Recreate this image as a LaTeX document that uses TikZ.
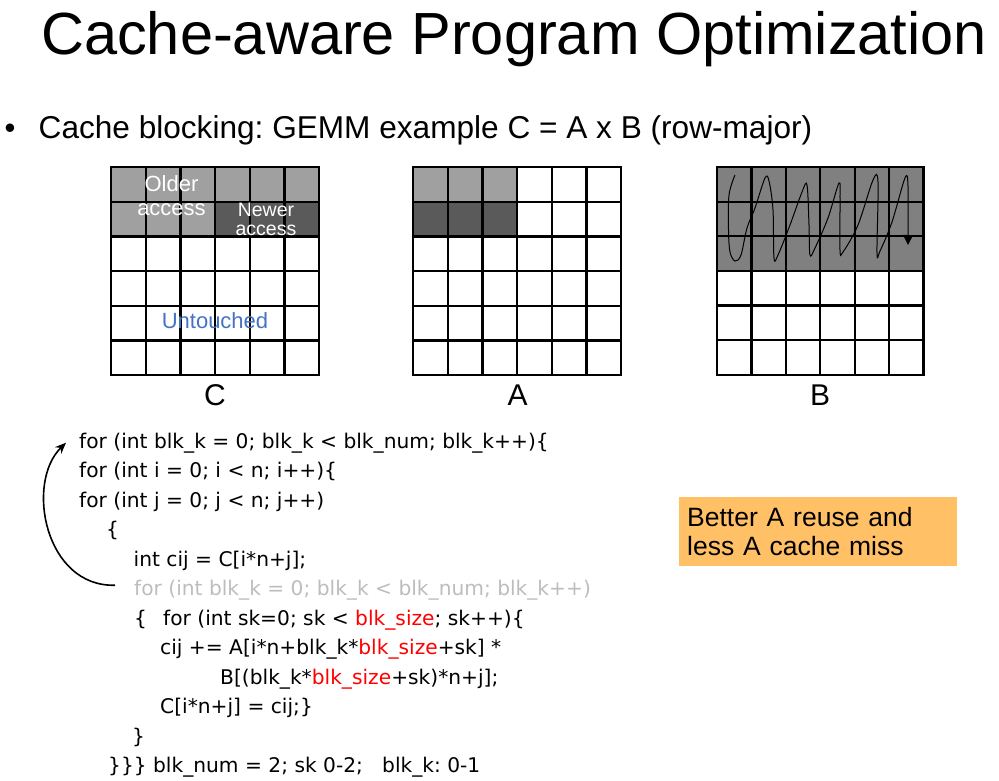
\documentclass[tikz,border=0pt]{standalone}
\usepackage{fontspec}
\setmainfont{Liberation Sans}
\newfontfamily\codefont{DejaVu Sans}
\usetikzlibrary{arrows.meta}
\frenchspacing

\definecolor{oldgray}{HTML}{A0A0A0}
\definecolor{newgray}{HTML}{5A5A5A}
\definecolor{blockgray}{HTML}{808080}
\definecolor{untouched}{HTML}{4472C4}
\definecolor{notebox}{HTML}{FFC066}
\definecolor{ghostcode}{HTML}{BDBDBD}
\newcommand{\hl}[1]{\textcolor{red}{#1}}

\tikzset{
  gridline/.style={line width=2.2pt, line cap=rect},
  code/.style={anchor=base west, inner sep=0pt, font=\codefont\fontsize{20.2}{24}\selectfont},
  letter/.style={anchor=base, inner sep=0pt, font=\fontsize{30}{36}\selectfont},
  celltext/.style={anchor=base, inner sep=0pt, text=white},
}

\begin{document}
\begin{tikzpicture}[x=1pt,y=-1pt]
    \useasboundingbox (0,0) rectangle (999,781);
    \node[anchor=base west, inner sep=0pt, font=\fontsize{59.5}{70}\selectfont] (title) at (41,55)
      {Cache-aware Program Optimization};
    \node[anchor=base, inner sep=0pt, font=\fontsize{31}{36}\selectfont] (bullet) at (10,139) {•};
    \node[anchor=base west, inner sep=0pt, font=\fontsize{31.6}{36}\selectfont] (topic) at (38.5,139)
      {Cache blocking: GEMM example C = A x B (row-major)};
    % matrix C
    \begin{scope}[shift={(111,167)}, x=34.7pt, y=-34.7pt]
      \fill[oldgray] (0,0) rectangle (6,1);
      \fill[oldgray] (0,1) rectangle (3,2);
      \fill[newgray] (3,1) rectangle (6,2);
      \foreach \i in {0,...,6} {
        \draw[gridline] (\i,0) -- (\i,6);
        \draw[gridline] (0,\i) -- (6,\i);
      }
    \end{scope}
    \node[celltext, font=\fontsize{22}{24}\selectfont] (older) at (171.5,191) {Older};
    \node[celltext, font=\fontsize{22}{24}\selectfont] (olderb) at (171.5,215) {access};
    \node[celltext, font=\fontsize{19.5}{20}\selectfont] (newer) at (266,216) {Newer};
    \node[celltext, font=\fontsize{19.5}{20}\selectfont] (newerb) at (266,235) {access};
    \node[celltext, text=untouched, font=\fontsize{22}{24}\selectfont] (untouched) at (215,328) {Untouched};
    \node[letter] (labelC) at (215,405) {C};
    % matrix A
    \begin{scope}[shift={(413,167)}, x=34.7pt, y=-34.7pt]
      \fill[oldgray] (0,0) rectangle (3,1);
      \fill[newgray] (0,1) rectangle (3,2);
      \foreach \i in {0,...,6} {
        \draw[gridline] (\i,0) -- (\i,6);
        \draw[gridline] (0,\i) -- (6,\i);
      }
    \end{scope}
    \node[letter] (labelA) at (517.5,405) {A};
    % matrix B
    \begin{scope}[shift={(717,167)}, x=34.4pt, y=-34.6pt]
      \fill[blockgray] (0,0) rectangle (6,3);
      \foreach \i in {0,...,6} {
        \draw[gridline] (\i,0) -- (\i,6);
        \draw[gridline] (0,\i) -- (6,\i);
      }
    \end{scope}
    \node[letter] (labelB) at (820,405) {B};
    \draw[line width=1pt, -{Triangle[length=10pt, width=10pt]}]
      plot[smooth, tension=0.55] coordinates {
        (735,175) (729,195) (728.5,230) (730,252) (735,261) (741,255)
        (747,228) (755,208) (765,178) (769,181) (773,210) (774,258)
        (778,255) (790,225) (802,192) (807,185) (809,225) (810,255)
        (815,248) (828,218) (839,183) (840,200) (840,250) (843,252)
        (858,225) (873,180) (878,182) (877,253) (880,251) (892,222)
        (905,178) (908,186) (908,245)};
    % blocked loop nest
    \node[code] (loopk) at (79,448) {for (int blk\_k = 0; blk\_k < blk\_num; blk\_k++)\{};
    \node[code] (loopi) at (79,477.5) {for (int i = 0; i < n; i++)\{};
    \node[code] (loopj) at (79,507) {for (int j = 0; j < n; j++)};
    \node[code] (openj) at (106,536.5) {\{};
    \node[code] (loadc) at (133.5,566) {int cij = C[i*n+j];};
    \node[code, text=ghostcode] (ghost) at (134,595.5) {for (int blk\_k = 0; blk\_k < blk\_num; blk\_k++)};
    \node[code] (openk) at (134,625) {\{};
    \node[code] (loopsk) at (163,625) {for (int sk=0; sk < \hl{blk\_size}; sk++)\{};
    \node[code] (accum) at (160,654.5) {cij += A[i*n+blk\_k*\hl{blk\_size}+sk] *};
    \node[code] (accumb) at (220,684) {B[(blk\_k*\hl{blk\_size}+sk)*n+j];};
    \node[code] (storec) at (160,713.5) {C[i*n+j] = cij;\}};
    \node[code] (closek) at (132,743) {\}};
    \node[code] (closeall) at (108,772.5) {\}\}\} blk\_num = 2; sk 0-2;};
    \node[code] (ranges) at (382,772.5) {blk\_k: 0-1};
    \draw[line width=1.6pt, -{Stealth[length=11pt, width=9pt]}]
      ([xshift=-19pt, yshift=5pt]ghost.west) .. controls +(-70,2) and +(-41,40) .. ([xshift=-13pt]loopk.west);
    % note
    \node[fill=notebox, anchor=north west, minimum width=278pt, minimum height=69pt,
      inner xsep=8pt, align=left, text width=262pt,
      font=\fontsize{26.5}{29}\selectfont] (note) at (679,497)
      {Better A reuse and\\less A cache miss};
\end{tikzpicture}
\end{document}
